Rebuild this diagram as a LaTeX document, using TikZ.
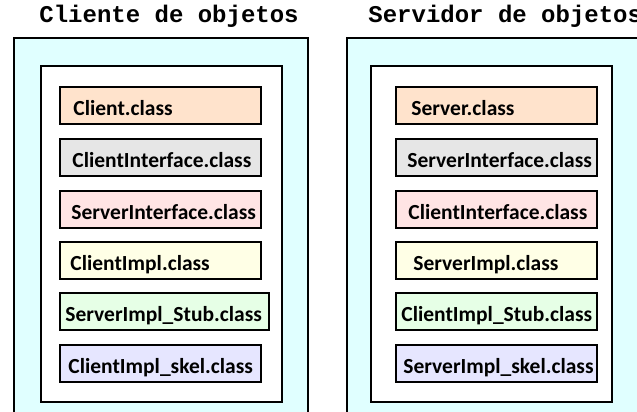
\documentclass[tikz,border=0pt]{standalone}
\usepackage{fontspec}
\newfontfamily\classfont{Carlito}
\newfontfamily\titlefont{Liberation Mono}

\definecolor{cyanbg}{HTML}{E0FFFF}
\definecolor{peach}{HTML}{FFE3CC}
\definecolor{greybox}{HTML}{E6E6E6}
\definecolor{pinkbox}{HTML}{FFE4E4}
\definecolor{creambox}{HTML}{FFFFE6}
\definecolor{mintbox}{HTML}{E6FFE6}
\definecolor{lilacbox}{HTML}{E6E6FF}

\tikzset{
    outerbox/.style={draw, line width=1pt, fill=cyanbg},
    innerbox/.style={draw, line width=1.3pt, fill=white},
    classbox/.style={shape=rectangle, draw, line width=1pt, anchor=north west,
        minimum width=100.5pt, minimum height=18.5pt, inner sep=0pt},
    classtext/.style={anchor=base west, inner sep=0pt, font=\classfont\bfseries\fontsize{10.75}{12}\selectfont},
    heading/.style={anchor=base west, inner sep=0pt, font=\titlefont\bfseries\fontsize{12}{14}\selectfont}
}

\begin{document}
\begin{tikzpicture}[x=0.5pt, y=-0.5pt]
    \useasboundingbox (0,0) rectangle (637,412);
    \clip (0,0) rectangle (637,412);

    % Headings
    \node[heading] (cliTitle) at (39,23) {Cliente de objetos};
    \node[heading] (srvTitle) at (368,23) {Servidor de objetos};

    % Client side
    \draw[outerbox] (14,38) rectangle (308,440);
    \draw[innerbox] (41,66) rectangle (282,402);
    \node[classbox, fill=peach] (client) at (59,86) {};
    \node[classtext] (clientT) at (73,115) {Client.class};
    \node[classbox, fill=greybox] (cliIface) at (59,138) {};
    \node[classtext] (cliIfaceT) at (72,167) {ClientInterface.class};
    \node[classbox, fill=pinkbox] (srvIface) at (59,190) {};
    \node[classtext] (srvIfaceT) at (71,219) {ServerInterface.class};
    \node[classbox, fill=creambox] (cliImpl) at (59,241) {};
    \node[classtext] (cliImplT) at (70,270) {ClientImpl.class};
    \node[classbox, fill=mintbox, minimum width=104.5pt] (srvStub) at (59,292) {};
    \node[classtext] (srvStubT) at (65,321) {ServerImpl\_Stub.class};
    \node[classbox, fill=lilacbox] (cliSkel) at (59,344) {};
    \node[classtext] (cliSkelT) at (68,373) {ClientImpl\_skel.class};

    % Server side
    \draw[outerbox] (347,38) rectangle (660,440);
    \draw[innerbox] (371,66) rectangle (612,402);
    \node[classbox, fill=peach] (server) at (395,86) {};
    \node[classtext] (serverT) at (411,115) {Server.class};
    \node[classbox, fill=greybox] (srvIface2) at (395,138) {};
    \node[classtext] (srvIface2T) at (407,167) {ServerInterface.class};
    \node[classbox, fill=pinkbox] (cliIface2) at (395,190) {};
    \node[classtext] (cliIface2T) at (408,219) {ClientInterface.class};
    \node[classbox, fill=creambox] (srvImpl) at (395,241) {};
    \node[classtext] (srvImplT) at (413,270) {ServerImpl.class};
    \node[classbox, fill=mintbox] (cliStub) at (395,292) {};
    \node[classtext] (cliStubT) at (401,321) {ClientImpl\_Stub.class};
    \node[classbox, fill=lilacbox] (srvSkel) at (395,344) {};
    \node[classtext] (srvSkelT) at (403,373) {ServerImpl\_skel.class};
\end{tikzpicture}
\end{document}
